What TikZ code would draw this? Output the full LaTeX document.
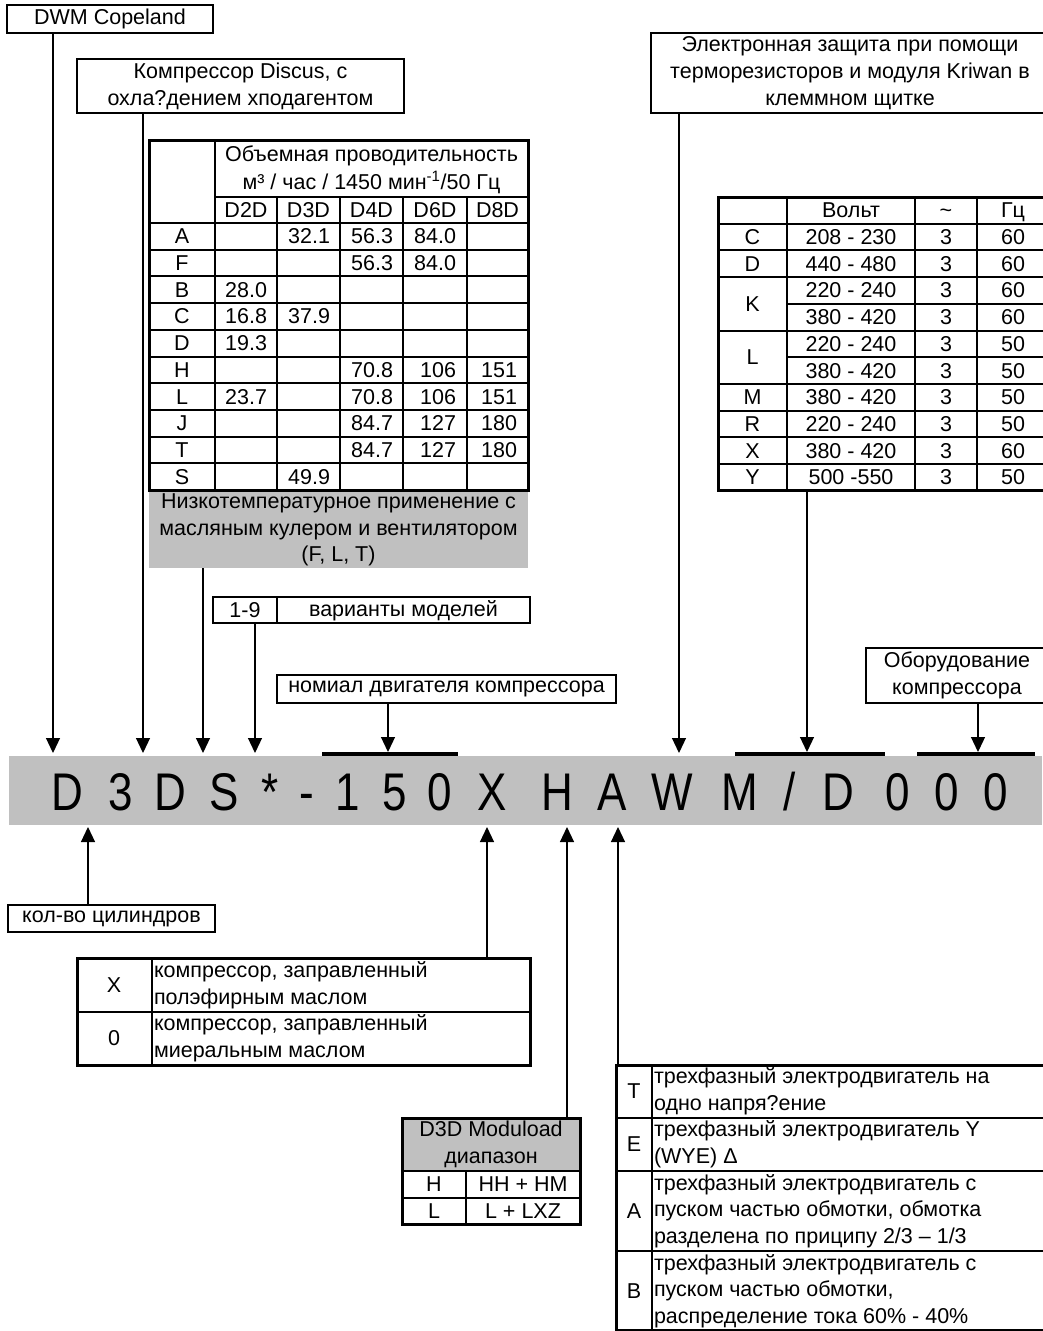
\documentclass[tikz,border=0pt]{standalone}
\usepackage{fontspec}
\usepackage{graphicx}
\setmainfont{Liberation Sans}
\usetikzlibrary{arrows.meta}
\definecolor{barg}{RGB}{192,192,192}
\newcommand\dgfs{\fontsize{21.5}{26.7}\selectfont}
\newcommand\dgcode{\fontsize{53}{53}\selectfont}
\newcommand\cch[1]{\scalebox{0.83}[1]{#1}}
\begin{document}
\begin{tikzpicture}[x=1pt,y=-1pt,
  every node/.style={font=\dgfs, inner sep=0pt, outer sep=0pt},
  box/.style={draw, line width=2.5pt, anchor=north west, align=center},
  frame/.style={draw, line width=3pt, anchor=north west},
  conn/.style={line width=1.2pt, -{Triangle[width=14pt,length=15pt]}},
  thinl/.style={line width=2pt},
  barl/.style={line width=4pt},
  cc/.style={font=\dgcode, anchor=base},
  cell/.style={anchor=base},
  num/.style={anchor=base east},
  ltxt/.style={anchor=west, align=left},
]
\useasboundingbox (0,0) rectangle (1042,1331);

% ---------- code bar ----------
\node[fill=barg, minimum width=1033pt, minimum height=69pt, anchor=north west] (codebar) at (9,756) {};
\foreach \ch/\xx [count=\k] in {D/67,3/121,D/170,S/224,*/270,-/307,1/348,5/395,0/440,X/492,H/557,A/612,W/672,M/740,{/}/790,D/838,0/898,0/947,0/996}{
  \node[cc] (ch\k) at (\xx,810) {\cch{\ch}};
}
\draw[barl] (322,754) -- (458,754);
\draw[barl] (735,754) -- (885,754);
\draw[barl] (917,754) -- (1035,754);

% arrow tips (top)
\coordinate (tA) at (53,753);
\coordinate (tB) at (143,753);
\coordinate (tC) at (203,753);
\coordinate (tD) at (255,753);
\coordinate (tE) at (388,752);
\coordinate (tF) at (679,753);
\coordinate (tG) at (807,752);
\coordinate (tH) at (978,752);
% arrow tips (bottom)
\coordinate (bA) at (88,827);
\coordinate (bB) at (487,827);
\coordinate (bC) at (567,827);
\coordinate (bD) at (618,827);

% ---------- top boxes ----------
\node[box, minimum width=206pt, minimum height=28pt] (dwm) at (7,5) {DWM Copeland};
\node[box, minimum width=327pt, minimum height=54pt] (discus) at (77,59) {Компрессор Discus, с\\охла?дением хподагентом};
\node[box, minimum width=398pt, minimum height=80pt] (elec) at (651,33) {Электронная защита при помощи\\терморезисторов и модуля Kriwan в\\клеммном щитке};

% ---------- left capacity table ----------
\node[frame, minimum width=379pt, minimum height=350pt] (ltab) at (149,140) {};
\draw[thinl] (215,140) -- (215,490);
\draw[thinl] (215,197) -- (528,197);
\draw[thinl] (149,223) -- (528,223);
\foreach \xx in {277,340,403,467}{ \draw[thinl] (\xx,197) -- (\xx,490); }
\foreach \i in {1,...,9}{ \draw[thinl] (149,{223+26.7*\i}) -- (528,{223+26.7*\i}); }
\node[cell] (lh1) at (371.5,161) {Объемная проводительность};
\node[cell] (lh2) at (371.5,189) {м³ / час / 1450 мин\textsuperscript{-1}/50 Гц};
\foreach \t/\xx [count=\k] in {D2D/246,D3D/308.5,D4D/371.5,D6D/435,D8D/497.5}{
  \node[cell] (lc\k) at (\xx,217.5) {\t};
}
\foreach \lab/\va/\vb/\vc/\vd/\ve [count=\i from 0] in {
  A/{}/32.1/56.3/84.0/{}, F/{}/{}/56.3/84.0/{}, B/28.0/{}/{}/{}/{},
  C/16.8/37.9/{}/{}/{}, D/19.3/{}/{}/{}/{}, H/{}/{}/70.8/106/151,
  L/23.7/{}/70.8/106/151, J/{}/{}/84.7/127/180, T/{}/{}/84.7/127/180,
  S/{}/49.9/{}/{}/{}}{
  \pgfmathsetmacro\yb{223+26.7*\i+20.8}
  \node[cell] (lr\i) at (182,\yb) {\lab};
  \node[num] (la\i) at (267,\yb) {\va};
  \node[num] (lb\i) at (330,\yb) {\vb};
  \node[num] (lcc\i) at (393,\yb) {\vc};
  \node[num] (ld\i) at (456,\yb) {\vd};
  \node[num] (le\i) at (517,\yb) {\ve};
}
\node[fill=barg, minimum width=379pt, minimum height=76pt, anchor=north west] (lowtemp) at (149,492) {};
\node[align=center] (lowtxt) at (338.5,530) {Низкотемпературное применение с\\масляным кулером и вентилятором\\(F, L, T)};

% ---------- voltage table ----------
\node[frame, minimum width=332pt, minimum height=293.5pt] (vtab) at (718,197) {};
\draw[thinl] (787,197) -- (787,490.7);
\draw[thinl] (915,197) -- (915,490.7);
\draw[thinl] (977,197) -- (977,490.7);
\foreach \yy in {223.7,250.4,277.1,330.5,383.9,410.6,437.3,464}{ \draw[thinl] (718,\yy) -- (1050,\yy); }
\foreach \yy in {303.8,357.2}{ \draw[thinl] (787,\yy) -- (1050,\yy); }
\node[cell] (vh1) at (851,217.5) {Вольт};
\node[cell] (vh2) at (946,217.5) {\textasciitilde};
\node[cell] (vh3) at (1013,217.5) {Гц};
\foreach \v/\p/\f [count=\i from 0] in {208 - 230/3/60, 440 - 480/3/60, 220 - 240/3/60, 380 - 420/3/60, 220 - 240/3/50, 380 - 420/3/50, 380 - 420/3/50, 220 - 240/3/50, 380 - 420/3/60, 500 -550/3/50}{
  \pgfmathsetmacro\yb{223.7+26.7*\i+20.8}
  \node[cell] (vv\i) at (851,\yb) {\v};
  \node[cell] (vp\i) at (946,\yb) {\p};
  \node[cell] (vf\i) at (1013,\yb) {\f};
}
\foreach \lab/\yy [count=\k] in {C/237.0, D/263.7, K/303.8, L/357.2, M/397.2, R/424.0, X/450.7, Y/477.3}{
  \node[cell] (vl\k) at (752.5,{\yy+7.5}) {\lab};
}

% ---------- middle boxes ----------
\node[box, minimum width=317pt, minimum height=26pt] (variants) at (213,597) {};
\draw[line width=2.5pt] (277,597) -- (277,623);
\node (vt1) at (245,610.5) {1-9};
\node (vt2) at (403.5,610.5) {варианты моделей};
\node[box, minimum width=339pt, minimum height=28pt] (nominal) at (277,675) {номиал двигателя компрессора};
\node[box, minimum width=182pt, minimum height=55pt] (equip) at (866,648) {Оборудование\\компрессора};

% ---------- bottom boxes ----------
\node[box, minimum width=207pt, minimum height=27pt] (cyl) at (8,905) {кол-во цилиндров};

\node[frame, minimum width=453pt, minimum height=107pt] (oiltab) at (77,958) {};
\draw[thinl] (152,958) -- (152,1065);
\draw[thinl] (77,1012) -- (530,1012);
\node (o1) at (114,985) {X};
\node (o2) at (114,1038.5) {0};
\node[ltxt] (o1t) at (154,985) {компрессор, заправленный\\полэфирным маслом};
\node[ltxt] (o2t) at (154,1038.5) {компрессор, заправленный\\миеральным маслом};

\node[fill=barg, minimum width=178pt, minimum height=53pt, anchor=north west] (modhead) at (402,1118) {};
\node[frame, minimum width=178pt, minimum height=106pt] (modtab) at (402,1118) {};
\draw[thinl] (402,1171) -- (580,1171);
\draw[thinl] (402,1197.5) -- (580,1197.5);
\draw[thinl] (466,1171) -- (466,1224);
\node[align=center] (m0) at (491,1144.5) {D3D Moduload\\диапазон};
\node[cell] (m1) at (434,1191.8) {H};
\node[cell] (m2) at (523,1191.8) {HH + HM};
\node[cell] (m3) at (434,1218.3) {L};
\node[cell] (m4) at (523,1218.3) {L + LXZ};

\node[frame, minimum width=434pt, minimum height=265pt] (mottab) at (616,1065) {};
\draw[thinl] (652,1065) -- (652,1331);
\foreach \yy in {1118,1171,1251}{ \draw[thinl] (616,\yy) -- (1050,\yy); }
\node (mt1) at (634,1091.5) {T};
\node (mt2) at (634,1144.5) {E};
\node (mt3) at (634,1211) {A};
\node (mt4) at (634,1291) {B};
\node[ltxt] (mx1) at (654,1091.5) {трехфазный электродвигатель на\\одно напря?ение};
\node[ltxt] (mx2) at (654,1144.5) {трехфазный электродвигатель Y\\(WYE) Δ};
\node[ltxt] (mx3) at (654,1211) {трехфазный электродвигатель с\\пуском частью обмотки, обмотка\\разделена по приципу 2/3 – 1/3};
\node[ltxt] (mx4) at (654,1291) {трехфазный электродвигатель с\\пуском частью обмотки,\\распределение тока 60\% - 40\%};

% ---------- connectors ----------
\draw[conn] (dwm.south -| tA) -- (tA);
\draw[conn] (discus.south -| tB) -- (tB);
\draw[conn] (lowtemp.south -| tC) -- (tC);
\draw[conn] (variants.south -| tD) -- (tD);
\draw[conn] (nominal.south -| tE) -- (tE);
\draw[conn] (elec.south -| tF) -- (tF);
\draw[conn] (vtab.south -| tG) -- (tG);
\draw[conn] (equip.south -| tH) -- (tH);
\draw[conn] (cyl.north -| bA) -- (bA);
\draw[conn] (oiltab.north -| bB) -- (bB);
\draw[conn] (modtab.north -| bC) -- (bC);
\draw[conn] (mottab.north -| bD) -- (bD);
\end{tikzpicture}
\end{document}
